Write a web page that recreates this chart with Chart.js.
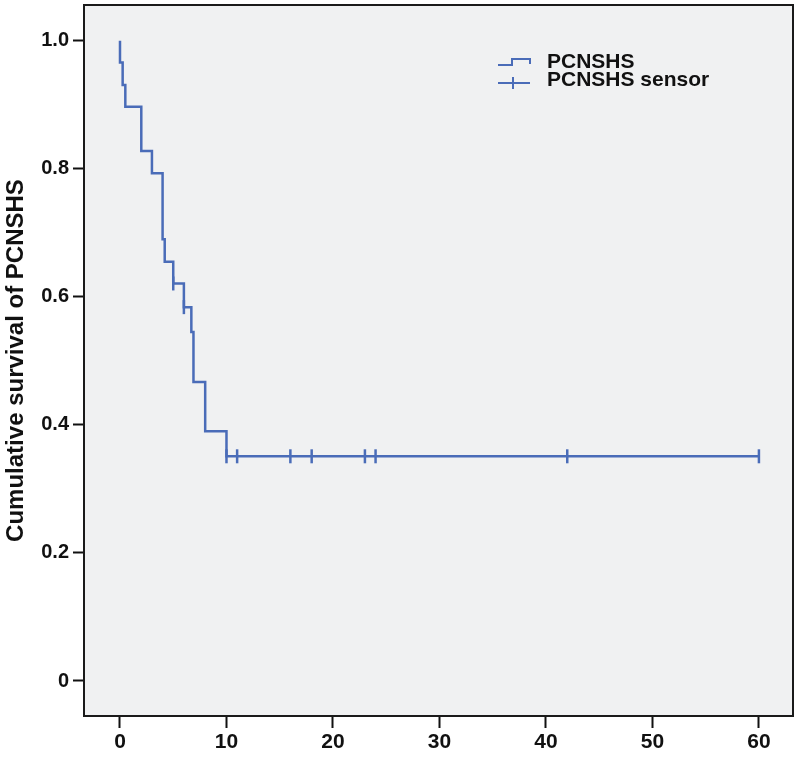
<!DOCTYPE html>
<html>
<head>
<meta charset="utf-8">
<script src="https://cdn.jsdelivr.net/npm/chart.js@4.4.1/dist/chart.umd.min.js"></script>
<style>
  html, body { margin: 0; padding: 0; background: #fff; }
</style>
</head>
<body>
<canvas id="kmChart" width="800" height="758"></canvas>
<script>
// Kaplan-Meier step points (time in months, survival after the drop)
const stepTimes = [0, 0, 0.25, 0.5, 2, 3, 4, 4.2, 5, 6, 6.7, 6.9, 8, 10, 60];
const survival = [1.0, 0.966, 0.931, 0.897, 0.828, 0.793, 0.690, 0.655, 0.621, 0.584, 0.545, 0.467, 0.390, 0.351, 0.351];

// censored cases
const censorTimes = [5, 6, 10, 11, 16, 18, 23, 24, 42, 60];
const censorSurvival = [0.621, 0.584, 0.351, 0.351, 0.351, 0.351, 0.351, 0.351, 0.351, 0.351];

const xTicks = [0, 10, 20, 30, 40, 50, 60];
const yTicks = [0, 0.2, 0.4, 0.6, 0.8, 1.0];
const legendLabels = ['PCNSHS', 'PCNSHS sensor'];

const lineColor = '#4a6cb8';
const plotBg = '#f0f1f2';
const fontFamily = '"Liberation Sans", Arial, Helvetica, sans-serif';

// grey plot area + frame round it
const boxPlugin = {
  id: 'plotBox',
  beforeDraw(chart) {
    const a = chart.chartArea;
    const ctx = chart.ctx;
    ctx.save();
    ctx.fillStyle = plotBg;
    ctx.fillRect(a.left, a.top, a.right - a.left, a.bottom - a.top);
    ctx.restore();
  },
  afterDraw(chart) {
    const a = chart.chartArea;
    const ctx = chart.ctx;
    ctx.save();
    ctx.strokeStyle = '#1a1a1a';
    ctx.lineWidth = 2;
    ctx.strokeRect(a.left, a.top, a.right - a.left, a.bottom - a.top);
    ctx.restore();
  }
};

// legend with step and "+" icons, like the SPSS one
const legendPlugin = {
  id: 'kmLegend',
  afterDraw(chart) {
    const ctx = chart.ctx;
    ctx.save();
    ctx.strokeStyle = lineColor;
    ctx.lineWidth = 2;
    ctx.beginPath();
    ctx.moveTo(498, 65);
    ctx.lineTo(512, 65);
    ctx.lineTo(512, 59);
    ctx.lineTo(530, 59);
    ctx.lineTo(530, 64);
    ctx.stroke();
    ctx.beginPath();
    ctx.moveTo(498, 83);
    ctx.lineTo(530, 83);
    ctx.moveTo(513, 77);
    ctx.lineTo(513, 89);
    ctx.stroke();
    ctx.fillStyle = '#111';
    ctx.font = 'bold 21px ' + fontFamily;
    ctx.textBaseline = 'alphabetic';
    ctx.fillText(legendLabels[0], 547, 68);
    ctx.fillText(legendLabels[1], 547, 86);
    ctx.restore();
  }
};

new Chart(document.getElementById('kmChart'), {
  type: 'line',
  data: {
    datasets: [
      {
        label: legendLabels[0],
        data: stepTimes.map((t, i) => ({ x: t, y: survival[i] })),
        stepped: 'before',
        borderColor: lineColor,
        borderWidth: 2.5,
        pointRadius: 0,
        fill: false
      },
      {
        label: legendLabels[1],
        data: censorTimes.map((t, i) => ({ x: t, y: censorSurvival[i] })),
        showLine: false,
        pointStyle: 'line',
        rotation: 90,
        pointRadius: 7,
        pointBorderWidth: 2.5,
        pointBorderColor: lineColor,
        pointBackgroundColor: lineColor
      }
    ]
  },
  options: {
    responsive: false,
    devicePixelRatio: 1,
    animation: false,
    layout: { autoPadding: false, padding: { top: 5, right: 7, left: 0, bottom: 0 } },
    plugins: {
      legend: { display: false },
      tooltip: { enabled: false }
    },
    scales: {
      x: {
        type: 'linear',
        min: -3.38,
        max: 63.2,
        afterBuildTicks: (scale) => { scale.ticks = xTicks.map(v => ({ value: v })); },
        afterFit: (scale) => {
          scale.height = 42;
          scale.paddingLeft = 0;
          scale.paddingRight = 0;
        },
        border: { display: false },
        grid: { drawOnChartArea: false, drawTicks: true, tickLength: 12, tickColor: '#111', tickWidth: 2 },
        ticks: {
          color: '#111',
          padding: 2,
          maxRotation: 0,
          font: { family: fontFamily, size: 21, weight: 'bold' }
        }
      },
      y: {
        type: 'linear',
        min: -0.0547,
        max: 1.056,
        afterBuildTicks: (scale) => { scale.ticks = yTicks.map(v => ({ value: v })); },
        afterFit: (scale) => {
          scale.width = 84;
          scale.paddingTop = 0;
          scale.paddingBottom = 0;
        },
        border: { display: false },
        grid: { drawOnChartArea: false, drawTicks: true, tickLength: 11, tickColor: '#111', tickWidth: 2 },
        ticks: {
          color: '#111',
          padding: 4,
          font: { family: fontFamily, size: 20, weight: 'bold' },
          callback: (v) => v === 0 ? '0' : v.toFixed(1)
        },
        title: {
          display: true,
          text: 'Cumulative survival of PCNSHS',
          color: '#111',
          font: { family: fontFamily, size: 24, weight: 'bold' },
          padding: { top: 2, bottom: 0 }
        }
      }
    }
  },
  plugins: [boxPlugin, legendPlugin]
});
</script>
</body>
</html>
